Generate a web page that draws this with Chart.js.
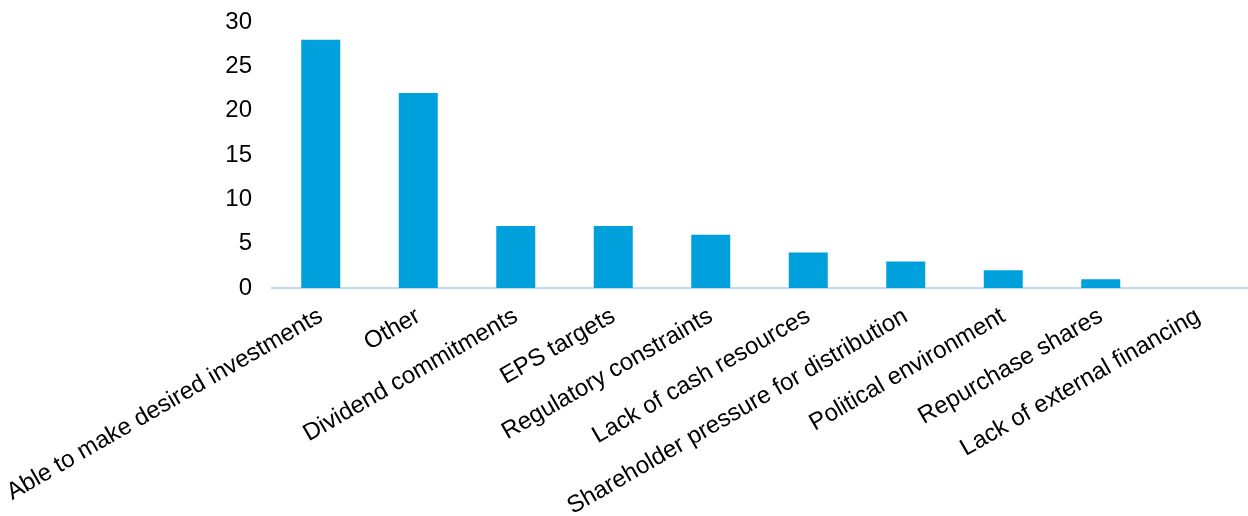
<!DOCTYPE html>
<html>
<head>
<meta charset="utf-8">
<script src="https://cdn.jsdelivr.net/npm/chart.js@4"></script>
<style>
    html, body { margin: 0; padding: 0; background: #fff; }
    #wrap { width: 1248px; height: 516px; }
</style>
</head>
<body>
<div id="wrap"><canvas id="chart" width="1248" height="516"></canvas></div>
<script>
const categories = [
    "Able to make desired investments",
    "Other",
    "Dividend commitments",
    "EPS targets",
    "Regulatory constraints",
    "Lack of cash resources",
    "Shareholder pressure for distribution",
    "Political environment",
    "Repurchase shares",
    "Lack of external financing",
];
const counts = [28, 22, 7, 7, 6, 4, 3, 2, 1, 0];
const yTicks = [0, 5, 10, 15, 20, 25, 30];

const barColor = "#00A0DC";

document.addEventListener("DOMContentLoaded", function () {
    const ctx = document.getElementById("chart");
    new Chart(ctx, {
        type: "bar",
        data: {
            labels: categories,
            datasets: [
                {
                    label: "Count",
                    data: counts,
                    backgroundColor: barColor,
                    categoryPercentage: 1,
                    barPercentage: 0.4,
                },
            ],
        },
        options: {
            responsive: false,
            animation: false,
            layout: { padding: { top: 22, right: 1, bottom: 0, left: 0 } },
            plugins: {
                legend: { display: false },
                tooltip: { enabled: false },
            },
            scales: {
                x: {
                    grid: { display: false, drawTicks: false },
                    border: { display: true, color: "#BDDCF4", width: 2 },
                    ticks: {
                        color: "#000",
                        font: { family: "Liberation Sans, Arial", size: 24 },
                        minRotation: 30,
                        maxRotation: 30,
                        autoSkip: false,
                        padding: 14,
                    },
                    afterFit: function (scale) {
                        scale.height = 228;
                        // keep the long first label from pushing the plot right
                        scale.paddingLeft = 0;
                        scale.paddingRight = 0;
                    },
                },
                y: {
                    min: 0,
                    max: 30,
                    afterBuildTicks: function (scale) {
                        scale.ticks = yTicks.map((v) => ({ value: v }));
                    },
                    grid: { display: false, drawTicks: false },
                    border: { display: false },
                    ticks: {
                        color: "#000",
                        font: { family: "Liberation Sans, Arial", size: 24 },
                        padding: 20,
                    },
                    afterFit: function (scale) {
                        scale.width = 272;
                        scale.paddingTop = 0;
                        scale.paddingBottom = 0;
                    },
                },
            },
        },
    });
});
</script>
</body>
</html>
